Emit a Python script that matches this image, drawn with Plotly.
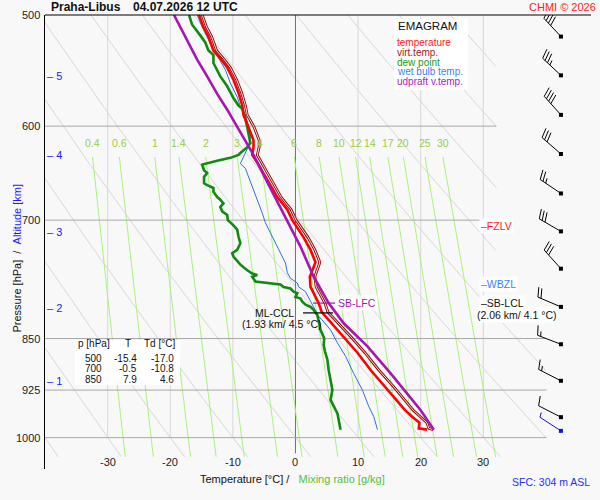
import numpy as np
import plotly.graph_objects as go

# ---- sounding (p in hPa, temperatures in deg C) ----
P_ENV = [500, 510, 518, 530, 537, 545, 556, 568, 580, 589,
         601, 614, 621, 629, 637, 655, 674, 688, 700, 720,
         735, 750, 760, 768, 781, 794, 802, 814, 828, 850,
         870, 895, 920, 940, 956, 966, 976, 985, 987]
T_ENV = [-15.4, -14.7, -13.9, -13.1, -12.0, -10.9, -9.9, -9.1, -8.5, -8.3,
         -7.5, -6.7, -6.7, -6.9, -6.1, -4.5, -2.9, -1.3, -0.5, 1.3,
         2.4, 3.2, 2.7, 2.3, 2.4, 3.2, 3.7, 4.2, 5.7, 7.9,
         9.9, 12.0, 14.3, 16.0, 17.5, 18.6, 19.8, 19.7, 21.0]
TV_ENV = [-14.9, -14.2, -13.4, -12.6, -11.5, -10.4, -9.4, -8.6, -8.0, -7.7,
          -6.6, -5.8, -5.8, -6.1, -5.4, -3.9, -2.3, -0.7, 0.1, 2.0,
          3.1, 3.9, 3.4, 3.1, 3.3, 4.1, 4.7, 5.2, 6.8, 9.1,
          11.1, 13.3, 15.7, 17.4, 18.8, 19.9, 21.0, 21.3, 22.0]

P_TD = [500, 508, 517, 523, 530, 534, 541, 547, 553, 562,
        573, 580, 583, 592, 601, 607, 614, 617, 621, 624,
        627, 629, 632, 635, 638, 639, 645, 648, 652, 659,
        661, 664, 668, 674, 677, 681, 685, 690, 694, 700,
        706, 711, 719, 727, 735, 739, 743, 749, 753, 760,
        764, 766, 768, 774, 776, 778, 781, 783, 787, 789,
        794, 796, 800, 804, 807, 811, 818, 827, 838, 850,
        859, 868, 880, 895, 910, 925, 940, 950, 961, 971,
        987]
TD = [-17.0, -16.5, -15.2, -14.4, -13.9, -13.1, -13.1, -12.5, -12.0, -10.9,
      -9.9, -9.1, -8.5, -8.0, -7.7, -7.5, -7.2, -7.2, -7.7, -8.3,
      -8.8, -9.1, -10.4, -12.5, -14.6, -14.9, -14.6, -14.1, -14.6, -14.6,
      -14.1, -13.1, -13.1, -12.5, -12.0, -11.5, -12.0, -11.7, -10.9, -10.8,
      -9.9, -9.3, -9.1, -8.8, -9.3, -10.1, -9.9, -9.3, -8.8, -7.7,
      -6.9, -6.1, -6.9, -6.4, -4.5, -2.4, -1.9, -0.8, -0.3, 0.3,
      0.0, 0.8, 1.1, 1.6, 2.4, 2.9, 3.5, 3.7, 4.0, 4.6,
      4.5, 4.7, 5.1, 5.3, 5.6, 5.9, 5.6, 6.1, 6.7, 6.9,
      7.2]

P_TW = [500, 510, 524, 534, 547, 559, 572, 581, 589, 600,
        610, 620, 631, 638, 643, 652, 662, 670, 681, 692,
        703, 715, 727, 739, 751, 763, 770, 776, 781, 787,
        795, 807, 820, 824, 838, 856, 875, 900, 925, 950,
        966, 987]
TW = [-15.7, -14.9, -13.6, -12.5, -11.2, -10.4, -9.3, -8.8, -8.0, -7.5,
      -7.2, -7.5, -8.3, -8.8, -8.0, -7.5, -6.9, -6.4, -5.9, -5.3,
      -4.8, -4.0, -3.2, -2.4, -1.6, -1.3, -0.8, 0.3, 0.5, 1.6,
      2.1, 2.9, 3.7, 4.2, 5.6, 6.7, 8.0, 9.3, 10.7, 11.7,
      12.5, 13.1]

P_PARCEL = [500, 510, 524, 538, 553, 569, 584, 601, 617, 629,
            659, 683, 731, 768, 802, 829, 861, 900, 930, 956, 987]
T_PARCEL = [-19.4, -18.4, -17.0, -15.7, -14.1, -12.5, -10.9, -9.3, -7.7, -6.7,
            -4.4, -2.6, 0.8, 2.9, 5.3, 7.7, 11.5, 15.2, 17.8, 20.0, 22.1]

# wind barbs (every 0.5 km), surface wind separately
WIND_P = [518, 552, 589, 628, 670, 713, 758, 807, 858, 911, 967]
WIND_DIR = [317, 313, 318, 311, 304, 300, 318, 293, 291, 297, 297]
WIND_KT = [40, 35, 40, 30, 25, 30, 30, 20, 15, 15, 10]
SFC_P, SFC_DIR, SFC_KT = 989, 303, 5

# levels and table
FZLV_P, WBZL_P, LCL_P, LFC_P, CCL_P = 707, 777, 802, 802, 815
TABLE_P = [500, 700, 850]
TABLE_T = [-15.4, -0.5, 7.9]
TABLE_TD = [-17.0, -10.8, 4.6]
ALT_KM = [1, 2, 3, 4, 5]
ALT_P = [911, 808, 714, 629, 553]

# diagram furniture
PRESS_LEVELS = [600, 700, 850, 925, 1000]
ISOTHERMS = [-30, -20, -10, 10, 20, 30]
THETAS = list(range(-40, 101, 10))
MIX_RATIOS = [0.4, 0.6, 1, 1.4, 2, 3, 4, 6, 8, 10, 12, 14, 17, 20, 25, 30]
MIX_LABELS = ["0.4", "0.6", "1", "1.4", "2", "3", "4", "6", "8", "10", "12", "14", "17", "20", "25", "30"]
X_TICKS = [-30, -20, -10, 0, 10, 20, 30]

# ---- geometry ----
W, H = 600, 500
LEFT, RIGHT, TOP, BOTTOM = 45, 9, 15, 31
PLOT_W = W - LEFT - RIGHT
PLOT_H = H - TOP - BOTTOM
T_MIN, T_MAX = -40.0, 47.2
P_TOP, P_BOT = 500.0, 1052.8
PX_PER_C = PLOT_W / (T_MAX - T_MIN)
PX_PER_LN = PLOT_H / np.log(P_BOT / P_TOP)
WIND_T = 42.4

FONT = "Liberation Sans, Arial, sans-serif"
BG = "#f8f8f8"


def px_x(px):
    return (px - LEFT) / PLOT_W


def px_y(py):
    return (H - BOTTOM - py) / PLOT_H


def x_px(t):
    return LEFT + (t - T_MIN) * PX_PER_C


def y_px(p):
    return TOP + np.log(p / P_TOP) * PX_PER_LN


def t_at(px):
    return T_MIN + (px - LEFT) / PX_PER_C


def p_at(py):
    return P_TOP * np.exp((py - TOP) / PX_PER_LN)


def right_limit(p):
    return np.where(p < 828, 32.1, 40.1)


def td_from_mix(w, p):
    e = w * p / (622.0 + w)
    a = np.log(e / 6.112)
    return 243.5 * a / (17.67 - a)


fig = go.Figure()


def add_line(x, y, color, width=1.0):
    fig.add_trace(go.Scatter(x=x, y=y, mode="lines", hoverinfo="skip",
                             line=dict(color=color, width=width)))


# dry adiabats
pg = np.linspace(P_TOP, 1032, 800)
for th in THETAS:
    t = (th + 273.15) * (pg / 1000.0) ** 0.2857 - 273.15
    t = np.where(t > right_limit(pg), np.nan, t)
    add_line(t, pg, "#d3d3d3", 0.9)

# isotherms
for t in ISOTHERMS:
    add_line([t, t], [P_TOP, 1000], "#d8d8d8", 1)
add_line([0, 0], [P_TOP, 1026], "#707070", 1)

# mixing ratio lines
pm = np.linspace(631, 1032, 60)
for w in MIX_RATIOS:
    add_line(td_from_mix(w, pm), pm, "#aaf27e", 1)

# isobars
for p in PRESS_LEVELS:
    add_line([T_MIN, float(right_limit(np.array(p)))], [p, p], "#a8a8a8", 1)

# profiles
add_line(TW, P_TW, "#2f6fe0", 1)
add_line(TD, P_TD, "#128a12", 2.6)
add_line(TV_ENV, P_ENV, "#8a1010", 2.8)
add_line(TV_ENV, P_ENV, "#f8dcdc", 1.0)
add_line(T_ENV, P_ENV, "#ff0000", 2.6)
add_line(T_PARCEL, P_PARCEL, "#a616b0", 2.6)

# level markers drawn on the profiles
add_line([t_at(313), t_at(335)], [LFC_P, LFC_P], "#a616b0", 1.2)
add_line([t_at(303), t_at(333)], [CCL_P, CCL_P], "#000000", 1.2)


# wind barbs
def barb(p0, wdir, spd):
    a = np.radians(wdir)
    ux, uy = np.sin(a), -np.cos(a)
    fx, fy = -uy, ux
    sl = np.radians(18)
    dx, dy = np.sin(sl) * ux + np.cos(sl) * fx, np.sin(sl) * uy + np.cos(sl) * fy
    bx, by = x_px(WIND_T), y_px(p0)
    tx, ty = bx + 25 * ux, by + 25 * uy
    xs, ys = [bx, tx, None], [by, ty, None]
    k = 0
    for _ in range(int(spd // 10)):
        sx, sy = tx - k * 3.3 * ux, ty - k * 3.3 * uy
        xs += [sx, sx + 10 * dx, None]
        ys += [sy, sy + 10 * dy, None]
        k += 1
    if spd % 10 >= 5:
        sx, sy = tx - k * 3.3 * ux, ty - k * 3.3 * uy
        xs += [sx, sx + 5 * dx, None]
        ys += [sy, sy + 5 * dy, None]
    tx_ = [None if v is None else t_at(v) for v in xs]
    ty_ = [None if v is None else p_at(v) for v in ys]
    return tx_, ty_


bx_all, by_all = [], []
for p0, d, s in zip(WIND_P, WIND_DIR, WIND_KT):
    xs, ys = barb(p0, d, s)
    bx_all += xs
    by_all += ys
add_line(bx_all, by_all, "#000000", 1)
fig.add_trace(go.Scatter(x=[WIND_T] * len(WIND_P), y=WIND_P, mode="markers", hoverinfo="skip",
                         marker=dict(symbol="square", size=4, color="#000000")))
xs, ys = barb(SFC_P, SFC_DIR, SFC_KT)
add_line(xs, ys, "#1010e0", 1)
fig.add_trace(go.Scatter(x=[WIND_T], y=[SFC_P], mode="markers", hoverinfo="skip",
                         marker=dict(symbol="square", size=4, color="#1010e0")))

# ---- text ----
ann = []


def text(x, y, s, size=11, color="#111111", xanchor="center", bold=False, **kw):
    if bold:
        s = "<b>" + s + "</b>"
    ann.append(dict(x=x, y=y, xref="paper", yref="paper", text=s, showarrow=False,
                    xanchor=xanchor, yanchor="middle",
                    font=dict(family=FONT, size=size, color=color), **kw))


def level_text(t, p, s, size=10.5, color="#111111", xanchor="left", bg=None):
    d = dict(x=t, y=np.log10(p), xref="x", yref="y", text=s, showarrow=False,
             xanchor=xanchor, yanchor="middle", font=dict(family=FONT, size=size, color=color))
    if bg:
        d["bgcolor"] = bg
    ann.append(d)


text(px_x(49), px_y(7), "Praha-Libus", 12, "#111111", "left", bold=True)
text(px_x(131), px_y(7), "04.07.2026 12 UTC", 12, "#111111", "left", bold=True)
text(px_x(598), px_y(7), "CHMI © 2026", 11, "#ff2020", "right")

# pressure labels
for p in [500] + PRESS_LEVELS:
    text(px_x(42), px_y(y_px(p)), str(p), 11, "#222222", "right")

# temperature labels
for t in X_TICKS:
    text(px_x(x_px(t)), px_y(462), str(t), 11, "#222222")

# altitude ticks
for km, p in zip(ALT_KM, ALT_P):
    text(px_x(45), px_y(y_px(p)), "– " + str(km), 11, "#1a1aff", "left")

# mixing ratio labels
for w, lab in zip(MIX_RATIOS, MIX_LABELS):
    text(px_x(x_px(td_from_mix(w, 631))), px_y(143), lab, 10.5, "#9ccc45")

# axis titles
text(px_x(292), px_y(479),
     "Temperature [°C] /\u00a0\u00a0 <span style='color:#55bf3a'>Mixing ratio [g/kg]</span>",
     11, "#111111")
ann.append(dict(x=px_x(8.5), y=px_y(258), xref="paper", yref="paper", textangle=-90,
                text="Pressure [hPa]\u00a0\u00a0/\u00a0\u00a0<span style='color:#1a1aff'>Altitude [km]</span>",
                showarrow=False, font=dict(family=FONT, size=11, color="#111111")))
text(px_x(551), px_y(482), "SFC: 304 m ASL", 10.5, "#2233ee")

# legend box
text(px_x(396), px_y(26), "EMAGRAM", 11.5, "#111111", "left")
legend_items = [("temperature", "#ff1a1a"), ("virt.temp.", "#a01c1c"), ("dew point", "#1a9a1a"),
                ("wet bulb temp.", "#3d7fff"), ("udpraft v.temp.", "#b020c0")]
for i, (lab, col) in enumerate(legend_items):
    text(px_x(396), px_y(42.3 + 9.9 * i), lab, 10, col, "left", borderpad=0)

# table
text(px_x(77), px_y(343.5), "p [hPa]", 10, "#111111", "left", borderpad=0)
text(px_x(127.5), px_y(343.5), "T", 10, "#111111", borderpad=0)
text(px_x(143), px_y(343.5), "Td [°C]", 10, "#111111", "left", borderpad=0)
for i, (p, t, td) in enumerate(zip(TABLE_P, TABLE_T, TABLE_TD)):
    yy = px_y(358.5 + 10.3 * i)
    text(px_x(103), yy, str(p), 10, "#111111", "right", borderpad=0)
    text(px_x(137.5), yy, "%.1f" % t, 10, "#111111", "right", borderpad=0)
    text(px_x(174.5), yy, "%.1f" % td, 10, "#111111", "right", borderpad=0)

# level labels
level_text(t_at(479), FZLV_P, "–FZLV", color="#ff1a1a", bg="white")
level_text(t_at(479), WBZL_P, "–WBZL", color="#3d7fff", bg="white")
level_text(t_at(479), LCL_P, "–SB-LCL", color="#111111", bg="white")
level_text(t_at(516.5), p_at(314.5), "(2.06 km/ 4.1 °C)", color="#111111", xanchor="center", bg="white")
level_text(t_at(336), LFC_P, "SB-LFC", color="#a616b0", bg="white")
level_text(t_at(296), CCL_P, "ML-CCL", color="#111111", xanchor="right")
level_text(t_at(281.5), p_at(324), "(1.93 km/ 4.5 °C)", color="#111111", xanchor="center")

shapes = [
    dict(type="rect", xref="paper", yref="paper", x0=px_x(394), x1=px_x(468),
         y0=px_y(19), y1=px_y(90), fillcolor="white", line=dict(width=0), layer="above"),
    dict(type="rect", xref="paper", yref="paper", x0=px_x(75), x1=px_x(180),
         y0=px_y(340), y1=px_y(385), fillcolor="white", line=dict(width=0), layer="above"),
    dict(type="line", xref="paper", yref="paper", x0=0, x1=1, y0=1, y1=1,
         line=dict(color="#000000", width=1.2)),
]

fig.update_layout(
    width=W, height=H,
    margin=dict(l=LEFT, r=RIGHT, t=TOP, b=BOTTOM, pad=0),
    paper_bgcolor=BG, plot_bgcolor=BG,
    showlegend=False,
    annotations=ann,
    shapes=shapes,
    xaxis=dict(range=[T_MIN, T_MAX], showgrid=False, zeroline=False,
               showticklabels=False, showline=False, fixedrange=True),
    yaxis=dict(type="log", range=[np.log10(P_BOT), np.log10(P_TOP)], showgrid=False,
               zeroline=False, showticklabels=False, showline=True,
               linecolor="#000000", linewidth=1.2, fixedrange=True),
)

# page body has a default 8px margin; drop it so the figure fills the window
fig.write_html("out.html", config={"displayModeBar": False},
               post_script="document.body.style.margin='0';")
